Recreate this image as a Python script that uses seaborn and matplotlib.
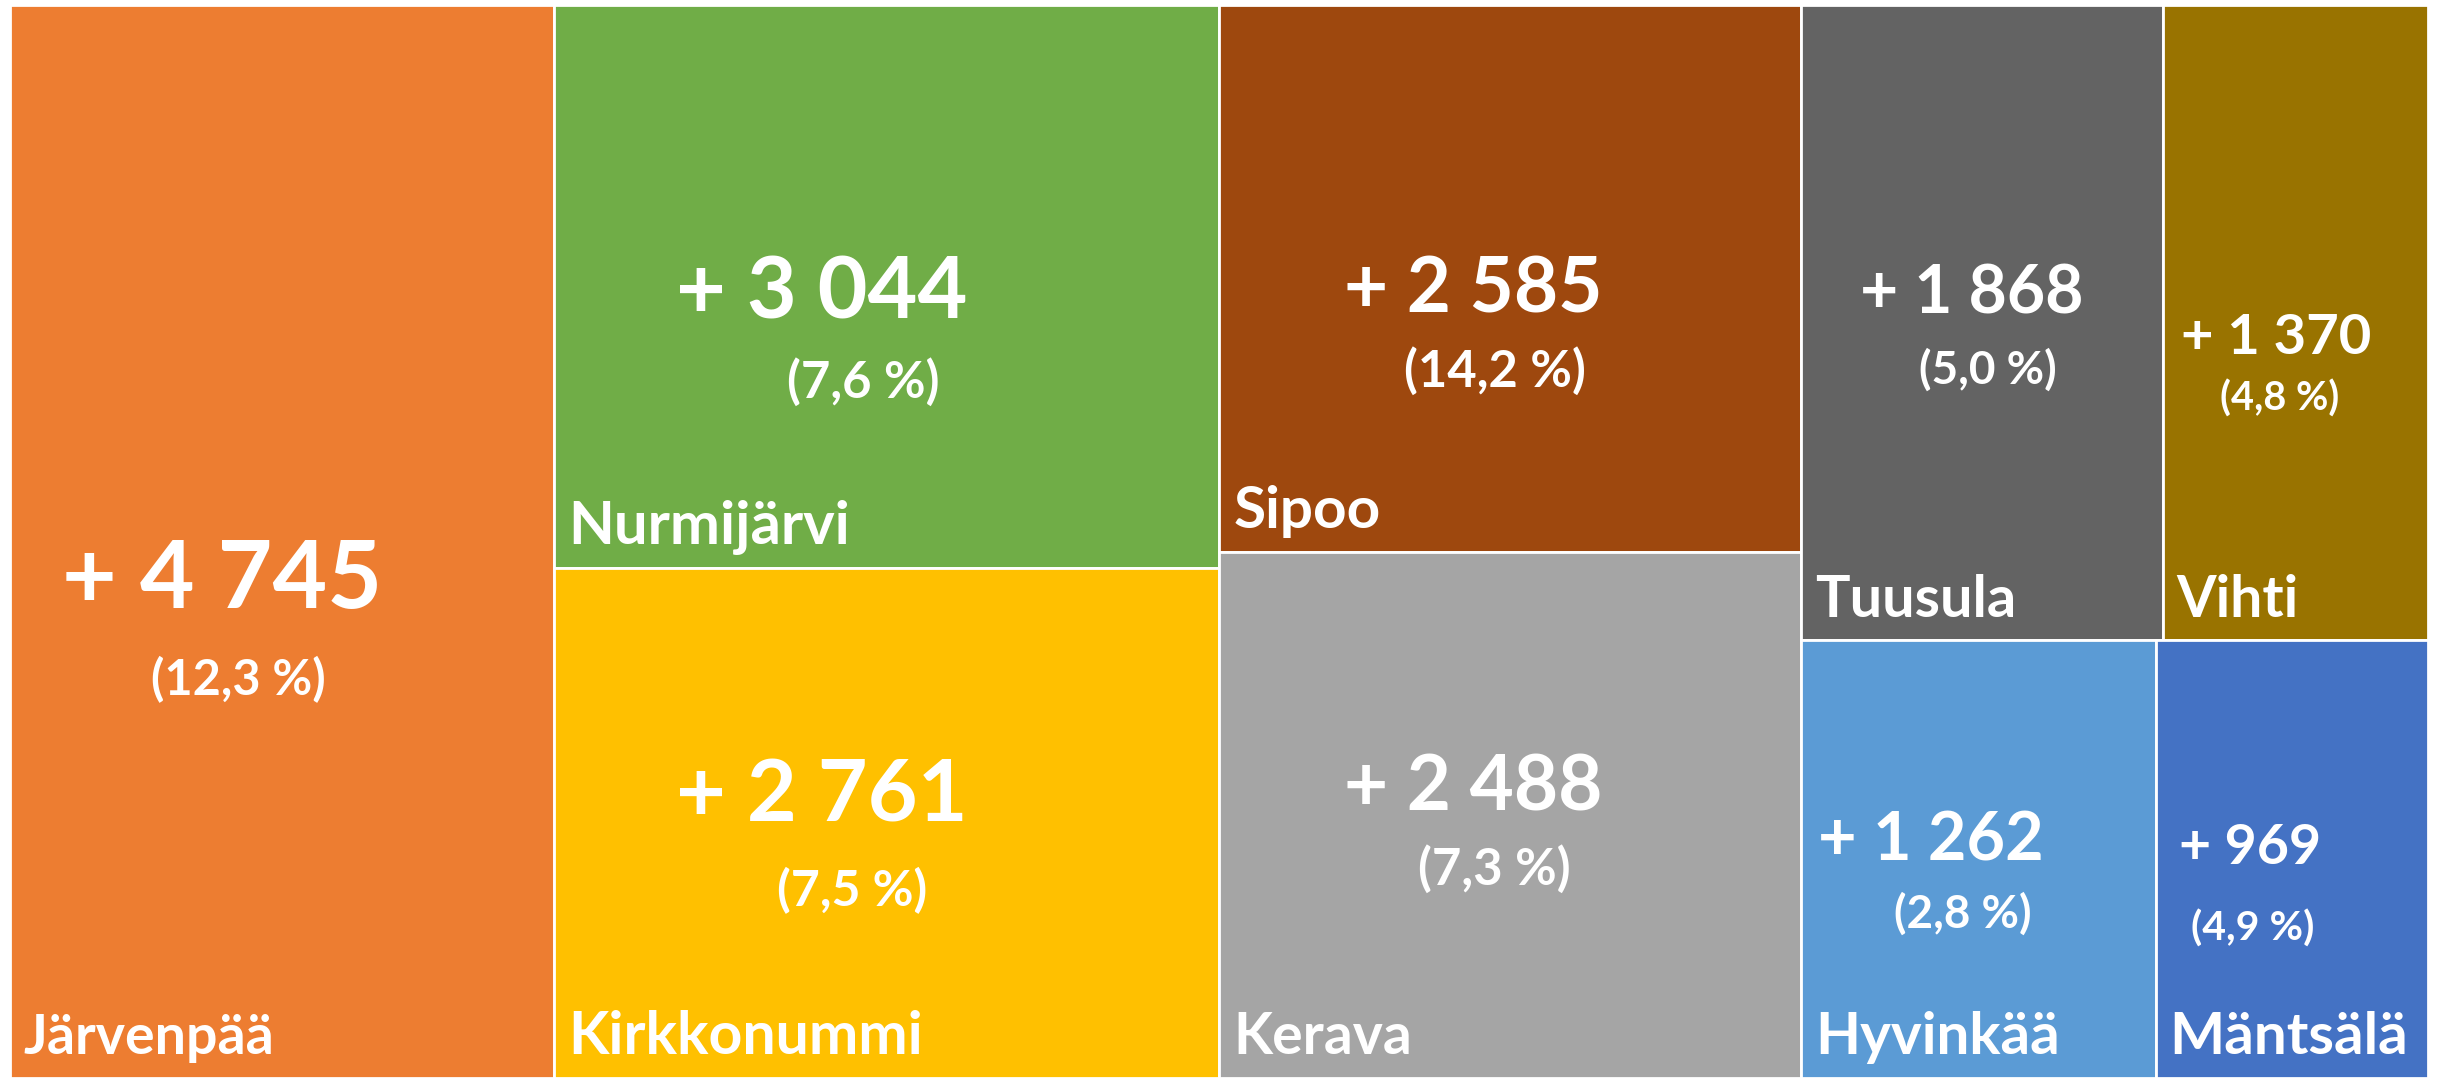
import matplotlib.pyplot as plt
import numpy as np
import seaborn as sns
from matplotlib.patches import Rectangle

sns.set_theme(style="white")
plt.rcParams["font.family"] = ["Lato", "DejaVu Sans"]

# data
municipalities = ["Järvenpää", "Nurmijärvi", "Kirkkonummi", "Sipoo", "Kerava",
                  "Tuusula", "Vihti", "Hyvinkää", "Mäntsälä"]
growth = [4745, 3044, 2761, 2585, 2488, 1868, 1370, 1262, 969]
growth_pct = ["12,3", "7,6", "7,5", "14,2", "7,3", "5,0", "4,8", "2,8", "4,9"]
colors = ["#ED7D31", "#70AD47", "#FFC000", "#9E480E", "#A5A5A5",
          "#636363", "#997300", "#5B9BD5", "#4472C4"]

# treemap structure (indices into the lists above):
# columns left to right; each column is a list of rows stacked top to bottom
structure = [
    [[0]],
    [[1], [2]],
    [[3], [4]],
    [[5, 6], [7, 8]],
]

# label placement inside each box (fraction of box from left / from top)
value_pos = [(0.39, 0.537), (0.403, 0.513), (0.403, 0.449), (0.436, 0.523), (0.436, 0.449),
             (0.472, 0.455), (0.427, 0.524), (0.366, 0.459), (0.346, 0.475)]
pct_pos = [(0.42, 0.629), (0.465, 0.671), (0.448, 0.633), (0.473, 0.671), (0.473, 0.603),
           (0.517, 0.575), (0.442, 0.619), (0.456, 0.626), (0.357, 0.658)]
value_size = [68, 62, 62, 55, 55, 47.5, 40.5, 48, 40]
pct_size = [35, 36.5, 36, 36.5, 36.5, 33, 28.5, 33, 29.5]
name_size = [40, 43, 42.5, 42, 41, 41.5, 41, 42, 42]


def layout(values, structure):
    vals = np.asarray(values, dtype=float)
    total = vals.sum()
    rects = {}
    x = 0.0
    for col in structure:
        col_sum = sum(vals[i] for row in col for i in row)
        w = col_sum / total
        y = 1.0
        for row in col:
            row_sum = sum(vals[i] for i in row)
            h = row_sum / col_sum
            y -= h
            xx = x
            for i in row:
                ww = w * vals[i] / row_sum
                rects[i] = (xx, y, ww, h)
                xx += ww
        x += w
    return rects


W, H = 2450, 1081
fig = plt.figure(figsize=(W / 100, H / 100), dpi=100)
ax = fig.add_axes([10 / W, 3 / H, 2418 / W, 1073 / H])
ax.set_xlim(0, 1)
ax.set_ylim(0, 1)
ax.axis("off")

rects = layout(growth, structure)
for i, name in enumerate(municipalities):
    x0, y0, w, h = rects[i]
    ax.add_patch(Rectangle((x0, y0), w, h, facecolor=colors[i],
                           edgecolor="white", linewidth=2))
    vx, vy = value_pos[i]
    ax.text(x0 + vx * w, y0 + h - vy * h, f"+ {growth[i]:,}".replace(",", " "),
            ha="center", va="center", color="white", fontweight="bold",
            fontsize=value_size[i])
    px, py = pct_pos[i]
    ax.text(x0 + px * w, y0 + h - py * h, f"({growth_pct[i]} %)",
            ha="center", va="center", color="white", fontweight="bold",
            fontsize=pct_size[i])
    ax.annotate(name, xy=(x0, y0), xytext=(10, 17), textcoords="offset points",
                ha="left", va="baseline", color="white", fontweight="bold",
                fontsize=name_size[i])

fig.savefig("out.png", dpi=100, facecolor="white")
plt.close(fig)
